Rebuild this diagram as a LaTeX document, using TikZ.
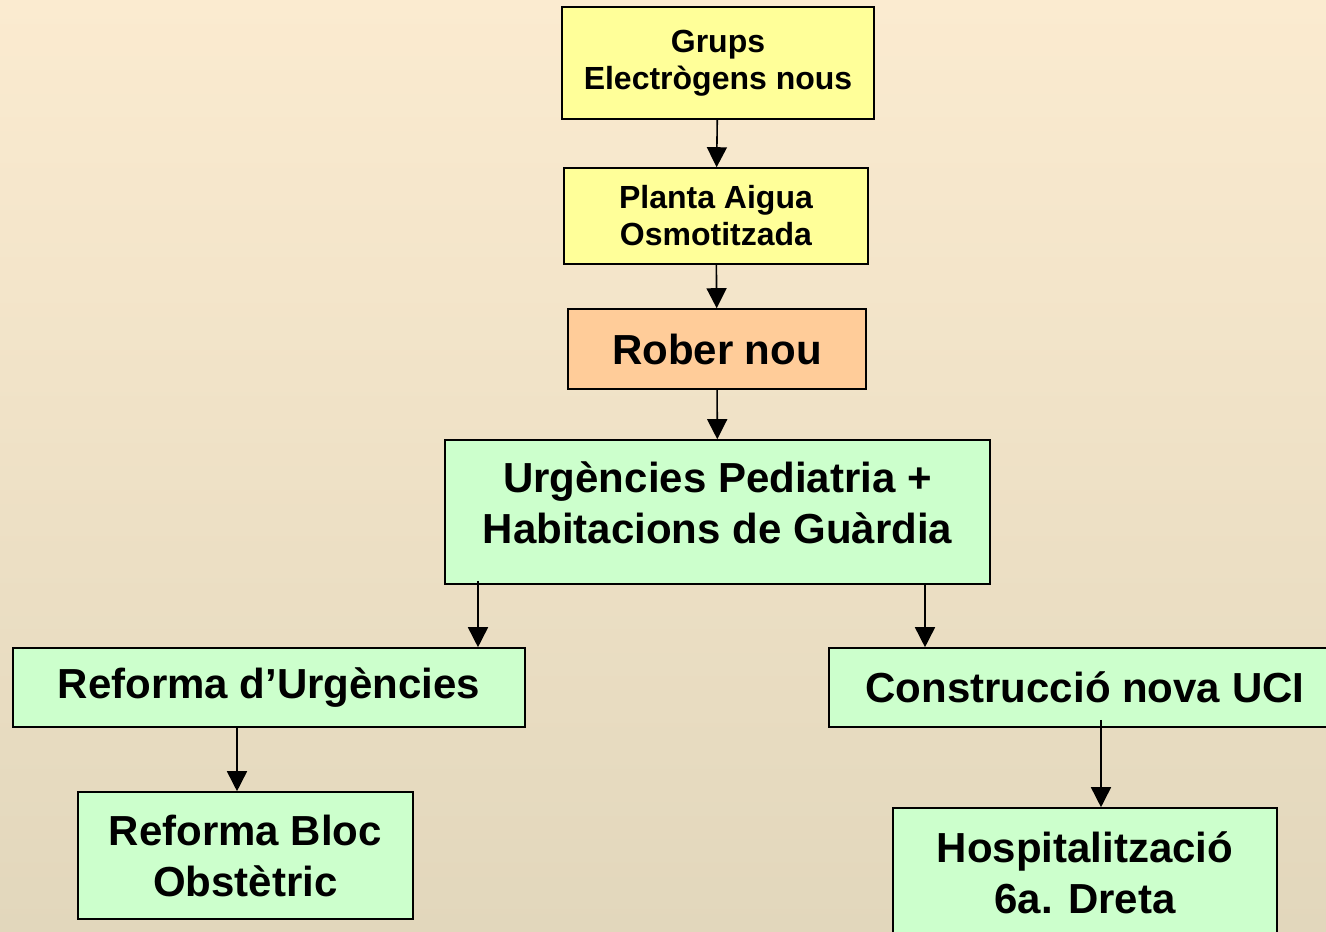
\documentclass[tikz,border=0pt]{standalone}
\usepackage{fontspec}
\setmainfont{Liberation Sans}
\usetikzlibrary{arrows.meta}
\definecolor{groc}{HTML}{FFFF99}
\definecolor{taronja}{HTML}{FFCC99}
\definecolor{verd}{HTML}{CCFFCC}
\definecolor{fonsA}{HTML}{FBEBD0}
\definecolor{fonsB}{HTML}{F3EAD6}
\definecolor{fonsC}{HTML}{E2D7BC}

\begin{document}
\begin{tikzpicture}[x=1pt,y=-1pt]
	\tikzset{caixa/.style = {draw, line width=1.6pt, align=center, inner sep=0pt},
		petita/.style = {caixa, fill=groc, font=\fontsize{32}{37}\selectfont\bfseries},
		gran/.style = {caixa, fill=verd, font=\fontsize{42}{51}\selectfont\bfseries},
		fletxa/.style = {-{Triangle[length=20pt,width=20pt]}, line width=1.6pt}}
	
	% Fons
	\clip (0,0) rectangle (1326,932);
	\shade[top color=fonsA, middle color=fonsB, bottom color=fonsC] (0,0) rectangle (1326,932);
	
	% Caixes
	\node[petita, minimum width=312pt, minimum height=112pt] (grups) at (718,63) {Grups\\Electrògens nous};
	\node[petita, minimum width=304pt, minimum height=96pt] (planta) at (716,216) {Planta Aigua\\Osmotitzada};
	\node[gran, fill=taronja, minimum width=298pt, minimum height=80pt] (rober) at (717,349) {Rober nou};
	\node[gran, minimum width=545pt, minimum height=144pt, text depth=19pt] (urg) at (717.5,512) {Urgències Pediatria +\\Habitacions de Guàrdia};
	\node[gran, minimum width=512pt, minimum height=79pt] (refurg) at (269,687.5) {Reforma d’Urgències};
	\node[gran, minimum width=512pt, minimum height=79pt] (uci) at (1085,687.5) {Construcció nova UCI};
	\node[gran, minimum width=335pt, minimum height=127pt] (bloc) at (245.5,855.5) {Reforma Bloc\\Obstètric};
	\node[gran, minimum width=384pt, minimum height=130pt] (hosp) at (1085,873) {Hospitalització\\6a. Dreta};
	
	% Fletxes
	\draw[fletxa] (grups) -- (planta);
	\draw[fletxa] (planta) -- (rober);
	\draw[fletxa] (rober) -- (urg);
	\draw[fletxa] ([xshift=-239.5pt,yshift=4pt]urg.south) coordinate (u1) -- (u1 |- refurg.north);
	\draw[fletxa] ([xshift=207.5pt]urg.south) coordinate (u2) -- (u2 |- uci.north);
	\draw[fletxa] ([xshift=-32pt]refurg.south) coordinate (r1) -- (r1 |- bloc.north);
	\draw[fletxa] ([xshift=16pt,yshift=8pt]uci.south) coordinate (u3) -- (u3 |- hosp.north);
\end{tikzpicture}
\end{document}
